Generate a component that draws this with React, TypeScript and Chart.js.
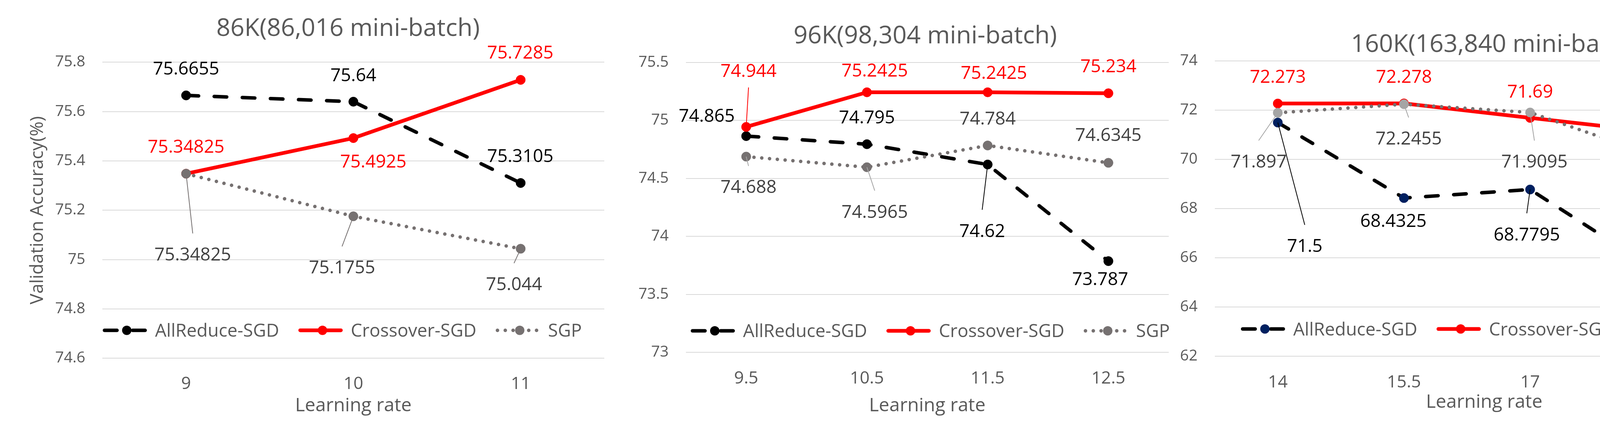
import { useEffect, useRef } from 'react';
import { Chart, registerables } from 'chart.js';
Chart.register(...registerables);

const FONT = '"Open Sans", "Noto Sans", sans-serif';
const SERIES = ['AllReduce-SGD', 'Crossover-SGD', 'SGP'];

// 86K (86,016 mini-batch)
const lr86 = ['9', '10', '11'];
const allreduce86 = [75.6655, 75.64, 75.3105];
const crossover86 = [75.34825, 75.4925, 75.7285];
const sgp86 = [75.34825, 75.1755, 75.044];

// 96K (98,304 mini-batch)
const lr96 = ['9.5', '10.5', '11.5', '12.5'];
const allreduce96 = [74.865, 74.795, 74.62, 73.787];
const crossover96 = [74.944, 75.2425, 75.2425, 75.234];
const sgp96 = [74.688, 74.5965, 74.784, 74.6345];

// 160K (163,840 mini-batch)
const lr160 = ['14', '15.5', '17', '18.5'];
const allreduce160 = [71.5, 68.4325, 68.7795, 65.4935];
const crossover160 = [72.273, 72.278, 71.69, 71.115];
const sgp160 = [71.897, 72.2455, 71.9095, 70.1295];

// label offsets from the point: [dx, dy, leader] (leader 1 = label below, -1 = label above)
type Off = [number, number, number];

interface PanelCfg {
  left: number;
  width: number;
  labels: string[];
  series: number[][];
  yMin: number;
  yMax: number;
  yStep: number;
  area: { left: number; right: number; top: number; bottom: number };
  title: string;
  titleX: number;
  titleBase: number;
  xTitleDx: number;
  xTitleBase: number;
  yTitle: boolean;
  legendX: number;
  legendY: number;
  tickPad: number;
  allMarker: string;
  sgpMarker: string;
  sgpLine: string;
  sgpLeader: string;
  offsets: Off[][];
}

const H = 1083;

const panels: PanelCfg[] = [
  {
    left: 0, width: 1560,
    labels: lr86, series: [allreduce86, crossover86, sgp86],
    yMin: 74.6, yMax: 75.8, yStep: 0.2,
    area: { left: 262.3, right: 1555, top: 159.3, bottom: 917.3 },
    title: '86K(86,016 mini-batch)', titleX: 891, titleBase: 91.5,
    xTitleDx: 0, xTitleBase: 1053, yTitle: true,
    legendX: 263, legendY: 845.7, tickPad: 39.5,
    allMarker: '#000000', sgpMarker: '#767171', sgpLine: '#767171', sgpLeader: '#767171',
    offsets: [
      [[0, -70, 0], [0, -69, 0], [-1, -70, 0]],
      [[0, -70, 0], [51, 59.5, 0], [-1, -71, 0]],
      [[17, 206, 1], [-29, 130, 1], [-17, 90, 1]],
    ],
  },
  {
    left: 1560, width: 1445,
    labels: lr96, series: [allreduce96, crossover96, sgp96],
    yMin: 73, yMax: 75.5, yStep: 0.5,
    area: { left: 195.7, right: 1441, top: 159.8, bottom: 902.3 },
    title: '96K(98,304 mini-batch)', titleX: 808.7, titleBase: 110.5,
    xTitleDx: 0, xTitleBase: 1053, yTitle: false,
    legendX: 208.3, legendY: 847, tickPad: 40.5,
    allMarker: '#000000', sgpMarker: '#767171', sgpLine: '#767171', sgpLeader: '#a6a6a6',
    offsets: [
      [[-101, -53, 0], [0, -70, 0], [-14, 169, 1], [-21, 45, 0]],
      [[6, -144, -1], [20, -57, 0], [16, -51, 0], [0, -70, 0]],
      [[6, 77, 1], [20, 113, 1], [0, -70, 0], [0, -72, 0]],
    ],
  },
  {
    left: 3005, width: 1440,
    labels: lr160, series: [allreduce160, crossover160, sgp160],
    yMin: 62, yMax: 74, yStep: 2,
    area: { left: 104.7, right: 1396.5, top: 156.3, bottom: 912.3 },
    title: '160K(163,840 mini-batch)', titleX: 826.5, titleBase: 132.7,
    xTitleDx: 44, xTitleBase: 1044, yTitle: false,
    legendX: 171.7, legendY: 842.3, tickPad: 40.5,
    allMarker: '#002060', sgpMarker: '#a5a5a5', sgpLine: '#767171', sgpLeader: '#a5a5a5',
    offsets: [
      [[69, 315, 1], [-27, 58, 0], [-8.5, 114, 1], [0, -70.7, 0]],
      [[0, -70, 0], [0, -69, 0], [0, -68, 0], [0, -69, 0]],
      [[-49, 124, 1], [12, 87, 1], [11, 125, 1], [-6, 68, 0]],
    ],
  },
];

const RED = '#ff0000';
const TEXT = '#595959';

function Panel({ cfg }: { cfg: PanelCfg }) {
  const canvasRef = useRef<HTMLCanvasElement>(null);
  const chartRef = useRef<Chart | null>(null);

  useEffect(() => {
    if (!canvasRef.current) return;
    if (chartRef.current) chartRef.current.destroy();

    const lineColors = ['#000000', RED, cfg.sgpLine];
    const markerColors = [cfg.allMarker, RED, cfg.sgpMarker];
    const labelColors = ['#000000', RED, '#404040'];
    const leaderColors = ['#000000', RED, cfg.sgpLeader];
    const dashes = [[32, 40], [], [0.01, 20]];
    const widths = [9, 9.5, 9];

    const pointLabels = {
      id: 'pointLabels',
      afterDatasetsDraw(chart: Chart) {
        const ctx = chart.ctx;
        ctx.save();
        ctx.font = `46px ${FONT}`;
        ctx.textAlign = 'center';
        ctx.textBaseline = 'alphabetic';
        cfg.series.forEach((vals, i) => {
          const meta = chart.getDatasetMeta(i);
          meta.data.forEach((pt: any, j: number) => {
            const [dx, dy, lead] = cfg.offsets[i][j];
            const lx = pt.x + dx;
            const ly = pt.y + dy;
            if (lead) {
              ctx.strokeStyle = leaderColors[i];
              ctx.lineWidth = 2;
              ctx.setLineDash([]);
              ctx.beginPath();
              ctx.moveTo(pt.x, pt.y);
              ctx.lineTo(lx, ly + (lead > 0 ? -53 : 43));
              ctx.stroke();
            }
            ctx.fillStyle = labelColors[i];
            ctx.fillText(String(vals[j]), lx, ly + 16.4);
          });
        });
        ctx.restore();
      },
    };

    const decor = {
      id: 'decor',
      afterDraw(chart: Chart) {
        const ctx = chart.ctx;
        const area = chart.chartArea;
        ctx.save();
        ctx.fillStyle = TEXT;
        ctx.textBaseline = 'alphabetic';
        ctx.textAlign = 'center';
        // title
        ctx.font = `63px ${FONT}`;
        ctx.fillText(cfg.title, cfg.titleX, cfg.titleBase);
        // x-axis title
        ctx.font = `48px ${FONT}`;
        ctx.fillText('Learning rate', (area.left + area.right) / 2 + cfg.xTitleDx, cfg.xTitleBase);
        // y-axis title
        if (cfg.yTitle) {
          ctx.save();
          ctx.translate(110, (area.top + area.bottom) / 2);
          ctx.rotate(-Math.PI / 2);
          ctx.font = `46px ${FONT}`;
          ctx.fillText('Validation Accuracy(%)', 0, 0);
          ctx.restore();
        }
        // legend
        let x = cfg.legendX;
        const y = cfg.legendY;
        ctx.font = `46px ${FONT}`;
        ctx.textAlign = 'left';
        SERIES.forEach((name, i) => {
          ctx.save();
          ctx.strokeStyle = lineColors[i];
          ctx.lineWidth = widths[i];
          ctx.lineCap = 'round';
          ctx.setLineDash(dashes[i]);
          ctx.beginPath();
          ctx.moveTo(x + 4.5, y);
          ctx.lineTo(x + 108.5, y);
          ctx.stroke();
          ctx.setLineDash([]);
          ctx.fillStyle = markerColors[i];
          ctx.beginPath();
          ctx.arc(x + 61.5, y, 12, 0, Math.PI * 2);
          ctx.fill();
          ctx.restore();
          ctx.fillStyle = TEXT;
          ctx.fillText(name, x + 134, y + 16.4);
          x += 134 + ctx.measureText(name).width + 49.5;
        });
        ctx.restore();
      },
    };

    const datasets = cfg.series.map((vals, i) => ({
      label: SERIES[i],
      data: vals,
      borderColor: lineColors[i],
      borderWidth: widths[i],
      borderDash: dashes[i],
      borderCapStyle: 'round' as const,
      borderJoinStyle: 'round' as const,
      pointRadius: 12,
      pointHoverRadius: 12,
      pointBorderWidth: 1,
      pointBackgroundColor: markerColors[i],
      pointBorderColor: markerColors[i],
      tension: 0,
      order: 2 - i,
      clip: false as const,
    }));

    chartRef.current = new Chart(canvasRef.current, {
      type: 'line',
      data: { labels: cfg.labels, datasets },
      options: {
        responsive: false,
        animation: false,
        devicePixelRatio: 1,
        layout: { padding: { left: 0, top: cfg.area.top, right: cfg.width - cfg.area.right, bottom: 0 } },
        plugins: { legend: { display: false }, title: { display: false }, tooltip: { enabled: false } },
        scales: {
          x: {
            type: 'category',
            offset: true,
            grid: { display: false, drawTicks: false },
            border: { display: false },
            ticks: { color: TEXT, font: { family: FONT, size: 44 }, padding: cfg.tickPad, autoSkip: false, maxRotation: 0 },
            afterFit: (s: any) => { s.height = H - cfg.area.bottom; },
          },
          y: {
            type: 'linear',
            min: cfg.yMin,
            max: cfg.yMax,
            grid: { color: '#d9d9d9', lineWidth: 2, drawTicks: false },
            border: { display: false },
            ticks: {
              stepSize: cfg.yStep,
              color: TEXT,
              font: { family: FONT, size: 39 },
              padding: 44,
              callback: (v: any) => String(+Number(v).toFixed(3)),
            },
            afterFit: (s: any) => { s.width = cfg.area.left; },
          },
        },
      },
      plugins: [pointLabels, decor],
    });

    return () => { chartRef.current?.destroy(); };
  }, [cfg]);

  return (
    <canvas
      ref={canvasRef}
      width={cfg.width}
      height={H}
      style={{ position: 'absolute', left: cfg.left, top: 0, width: cfg.width, height: H }}
      role="img"
      aria-label={cfg.title}
    />
  );
}

export default function App() {
  return (
    <div style={{ position: 'absolute', left: 0, top: 0, width: 4445, height: H, background: '#ffffff' }}>
      {panels.map(p => <Panel key={p.title} cfg={p} />)}
    </div>
  );
}
